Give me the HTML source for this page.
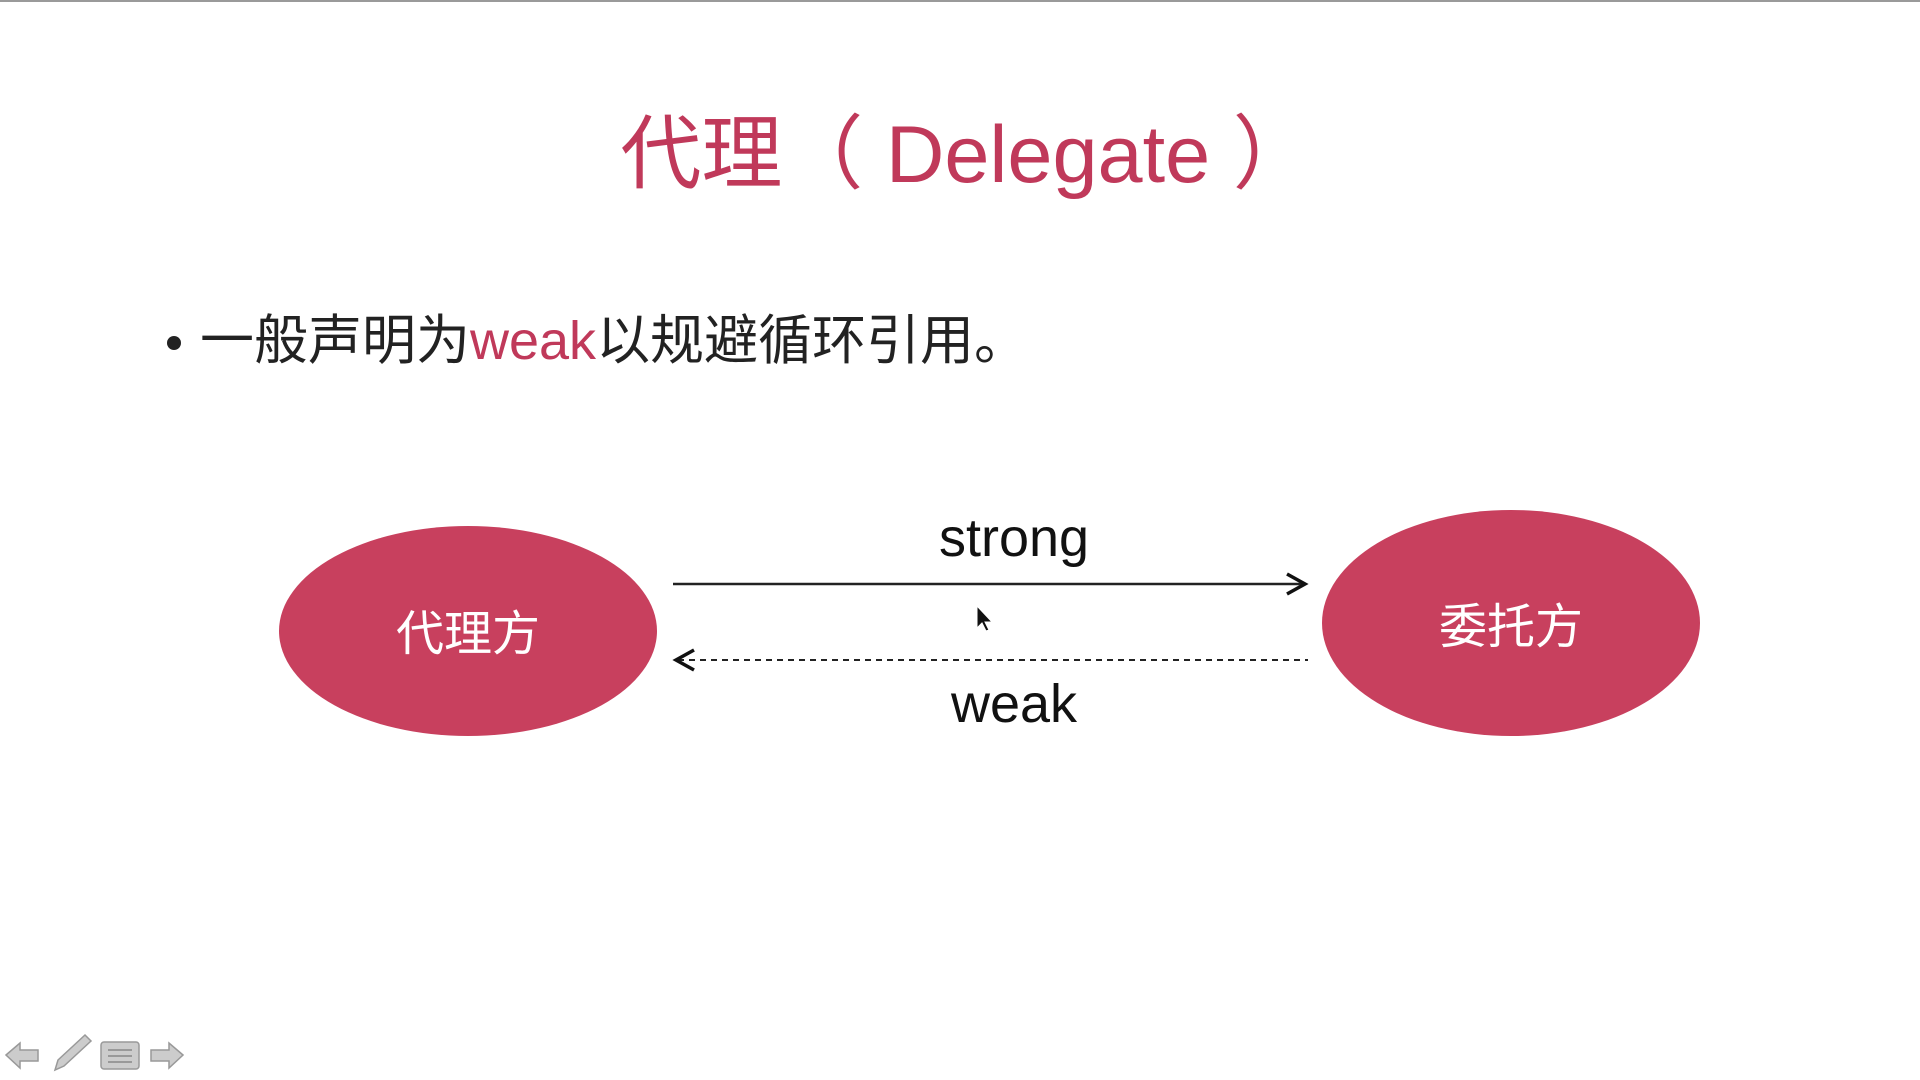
<!DOCTYPE html>
<html><head><meta charset="utf-8"><style>
html,body{margin:0;padding:0;background:#fff;}
body{width:1920px;height:1080px;position:relative;overflow:hidden;font-family:"Liberation Sans","Noto Sans CJK SC",sans-serif;}
.t{position:absolute;white-space:nowrap;}
</style></head><body>
<div style="position:absolute;left:0;top:0;width:1920px;height:2px;background:#9a9a9a"></div>
<div class="t" style="left:18px;width:1898px;text-align:center;top:100px;font-size:81px;color:#c0395a;line-height:110px;">代理（ Delegate ）</div>
<div style="position:absolute;left:167px;top:336px;width:14px;height:14px;border-radius:50%;background:#222"></div>
<div class="t" style="left:200px;top:306px;font-size:54px;line-height:70px;color:#222;">一般声明为<span style="color:#c0395a">weak</span>以规避循环引用。</div>
<svg width="1920" height="1080" style="position:absolute;left:0;top:0">
<ellipse cx="468" cy="631" rx="189" ry="105" fill="#c8405e"/>
<ellipse cx="1511" cy="623" rx="189" ry="113" fill="#c8405e"/>
<line x1="673" y1="584" x2="1303" y2="584" stroke="#222" stroke-width="2.5"/>
<polyline points="1287,574 1305,584 1287,594" fill="none" stroke="#111" stroke-width="3.5"/>
<line x1="678" y1="660" x2="1308" y2="660" stroke="#222" stroke-width="2" stroke-dasharray="6,5"/>
<polyline points="694,650 676,660 694,670" fill="none" stroke="#111" stroke-width="3.5"/>
<text x="468" y="650" font-size="48" fill="#fff" text-anchor="middle" font-family="Liberation Sans,Noto Sans CJK SC,sans-serif">代理方</text>
<text x="1511" y="643" font-size="48" fill="#fff" text-anchor="middle" font-family="Liberation Sans,Noto Sans CJK SC,sans-serif">委托方</text>
<text x="1014" y="556" font-size="54" fill="#111" text-anchor="middle" font-family="Liberation Sans,sans-serif">strong</text>
<text x="1014" y="722" font-size="54" fill="#111" text-anchor="middle" font-family="Liberation Sans,sans-serif">weak</text>
<polygon points="977,606 977,628 982,623 986,631 989,630 985,622 992,622" fill="#111" stroke="#fff" stroke-width="1"/>
<g fill="#ccc" stroke="#999" stroke-width="1.5">
<polygon points="6,1055 20,1043 20,1050 38,1050 38,1061 20,1061 20,1068"/>
<polygon points="55,1070 58,1060 85,1035 91,1041 64,1066"/>
<rect x="101" y="1042" width="38" height="27" rx="3"/>
<polygon points="183,1055 169,1043 169,1050 151,1050 151,1061 169,1061 169,1068"/>
</g>
<g stroke="#999" stroke-width="2"><line x1="108" y1="1050" x2="132" y2="1050"/><line x1="108" y1="1056" x2="132" y2="1056"/><line x1="108" y1="1062" x2="132" y2="1062"/></g>
</svg>
</body></html>
